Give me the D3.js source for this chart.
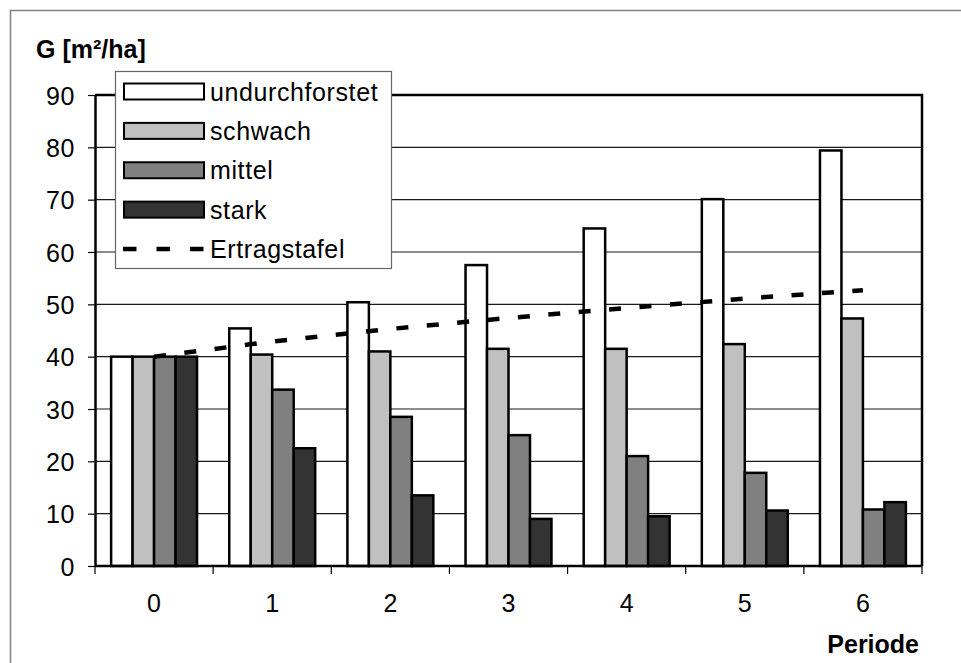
<!DOCTYPE html>
<html>
<head>
<meta charset="utf-8">
<script src="https://cdn.jsdelivr.net/npm/d3@7"></script>
<style>
  html, body { margin: 0; padding: 0; background: #fff; }
  svg { display: block; }
  text { font-family: Arial, "Liberation Sans", sans-serif; fill: #000; }
</style>
</head>
<body>
<svg id="chart" width="961" height="663"></svg>
<script>
// Perioden (Kategorien der x-Achse)
const periods = ["0", "1", "2", "3", "4", "5", "6"];

// Grundfläche G [m²/ha] je Durchforstungsvariante
const undurchforstet = [40.0, 45.4, 50.4, 57.5, 64.5, 70.1, 79.4];
const schwach        = [40.0, 40.4, 41.0, 41.5, 41.5, 42.4, 47.3];
const mittel         = [40.0, 33.7, 28.5, 25.0, 21.0, 17.8, 10.8];
const stark          = [40.0, 22.5, 13.5,  9.0,  9.5, 10.6, 12.2];

// Ertragstafel-Referenz
const ertragstafel   = [40.0, 42.9, 45.3, 47.4, 49.3, 51.1, 52.7];

const seriesNames  = ["undurchforstet", "schwach", "mittel", "stark"];
const seriesValues = [undurchforstet, schwach, mittel, stark];
const seriesFills  = ["#ffffff", "#c0c0c0", "#808080", "#333333"];

const yTicks = [0, 10, 20, 30, 40, 50, 60, 70, 80, 90];

const svg = d3.select("#chart");

// Rahmen des Diagrammbereichs
svg.append("rect")
  .attr("x", 10.5).attr("y", 10.5)
  .attr("width", 980).attr("height", 700)
  .attr("fill", "#fff")
  .attr("stroke", "#808080").attr("stroke-width", 1.5);

const plot = { left: 95, right: 922, top: 95, bottom: 566 };

const x = d3.scaleBand().domain(periods).range([plot.left, plot.right]).paddingInner(0).paddingOuter(0);
const xs = d3.scaleBand().domain(seriesNames).range([0, x.bandwidth()]).paddingInner(0).paddingOuter(0.75);
const y = d3.scaleLinear().domain([0, 90]).range([plot.bottom, plot.top]);

const fontSize = 25;

// Gitterlinien
svg.append("g")
  .selectAll("line")
  .data(yTicks.filter(d => d > 0 && d < 90))
  .join("line")
  .attr("x1", plot.left).attr("x2", plot.right)
  .attr("y1", d => y(d)).attr("y2", d => y(d))
  .attr("stroke", "#1a1a1a").attr("stroke-width", 1.2);

// Balken
const groups = svg.append("g")
  .selectAll("g")
  .data(seriesNames)
  .join("g")
  .attr("fill", (d, i) => seriesFills[i]);

groups.selectAll("rect")
  .data((name, i) => periods.map((p, j) => ({ p, name, v: seriesValues[i][j] })))
  .join("rect")
  .attr("x", d => x(d.p) + xs(d.name))
  .attr("width", xs.bandwidth())
  .attr("y", d => y(d.v))
  .attr("height", d => y(0) - y(d.v))
  .attr("stroke", "#000").attr("stroke-width", 2.5);

// Plotrahmen oben und rechts
svg.append("path")
  .attr("d", `M${plot.left},${plot.top}H${plot.right}V${plot.bottom}`)
  .attr("fill", "none").attr("stroke", "#000").attr("stroke-width", 2.5);

// y-Achse
const yAxis = svg.append("g")
  .attr("transform", `translate(${plot.left},0)`)
  .call(d3.axisLeft(y).tickValues(yTicks).tickSize(7).tickPadding(13).tickSizeOuter(0));
yAxis.select(".domain").attr("stroke", "#000").attr("stroke-width", 2.5);
yAxis.selectAll(".tick line").attr("stroke", "#000").attr("stroke-width", 1.2);
yAxis.selectAll(".tick text")
  .attr("font-size", fontSize).attr("letter-spacing", "0.6px")
  .attr("font-family", "Arial, 'Liberation Sans', sans-serif")
  .attr("dy", "0.36em");

// x-Achse mit Teilstrichen an den Kategoriegrenzen
const xAxis = svg.append("g").attr("transform", `translate(0,${plot.bottom})`);
xAxis.append("line")
  .attr("x1", plot.left).attr("x2", plot.right)
  .attr("stroke", "#000").attr("stroke-width", 2.5);
const boundaries = periods.map(p => x(p)).concat([x(periods[periods.length - 1]) + x.bandwidth()]);
xAxis.selectAll("line.tk")
  .data(boundaries)
  .join("line").attr("class", "tk")
  .attr("x1", d => d).attr("x2", d => d)
  .attr("y1", 0).attr("y2", 8)
  .attr("stroke", "#000").attr("stroke-width", 1.2);
xAxis.selectAll("text")
  .data(periods)
  .join("text")
  .attr("x", d => x(d) + x.bandwidth() / 2)
  .attr("y", 46)
  .attr("text-anchor", "middle")
  .attr("font-size", fontSize)
  .text(d => d);

// Ertragstafel-Linie
const line = d3.line()
  .x((d, i) => x(periods[i]) + x.bandwidth() / 2)
  .y(d => y(d));
svg.append("path")
  .datum(ertragstafel)
  .attr("d", line)
  .attr("fill", "none")
  .attr("stroke", "#000").attr("stroke-width", 4.5)
  .attr("stroke-dasharray", "12,18.5");

// Achsentitel
svg.append("text")
  .attr("x", 36).attr("y", 58)
  .attr("font-size", fontSize).attr("font-weight", "bold")
  .text("G [m²/ha]");
svg.append("text")
  .attr("x", 919).attr("y", 653)
  .attr("text-anchor", "end")
  .attr("font-size", fontSize).attr("font-weight", "bold")
  .text("Periode");

// Legende
const legend = svg.append("g");
legend.append("rect")
  .attr("x", 115.5).attr("y", 71.5)
  .attr("width", 276).attr("height", 197)
  .attr("fill", "#fff").attr("stroke", "#666").attr("stroke-width", 1.2);

const legendItems = seriesNames.concat(["Ertragstafel"]);
const rowY = d3.scalePoint().domain(legendItems).range([91.5, 249]);

const items = legend.selectAll("g.item")
  .data(legendItems)
  .join("g").attr("class", "item")
  .attr("transform", d => `translate(0,${rowY(d)})`);

items.filter((d, i) => i < 4)
  .append("rect")
  .attr("x", 124).attr("y", -8)
  .attr("width", 80).attr("height", 16)
  .attr("fill", d => seriesFills[seriesNames.indexOf(d)])
  .attr("stroke", "#000").attr("stroke-width", 2);

items.filter(d => d === "Ertragstafel")
  .append("line")
  .attr("x1", 123).attr("x2", 204)
  .attr("stroke", "#000").attr("stroke-width", 4.5)
  .attr("stroke-dasharray", "13.5,20");

items.append("text")
  .attr("x", 210)
  .attr("dy", "0.36em")
  .attr("font-size", fontSize).attr("letter-spacing", "0.6px")
  .text(d => d);
</script>
</body>
</html>
